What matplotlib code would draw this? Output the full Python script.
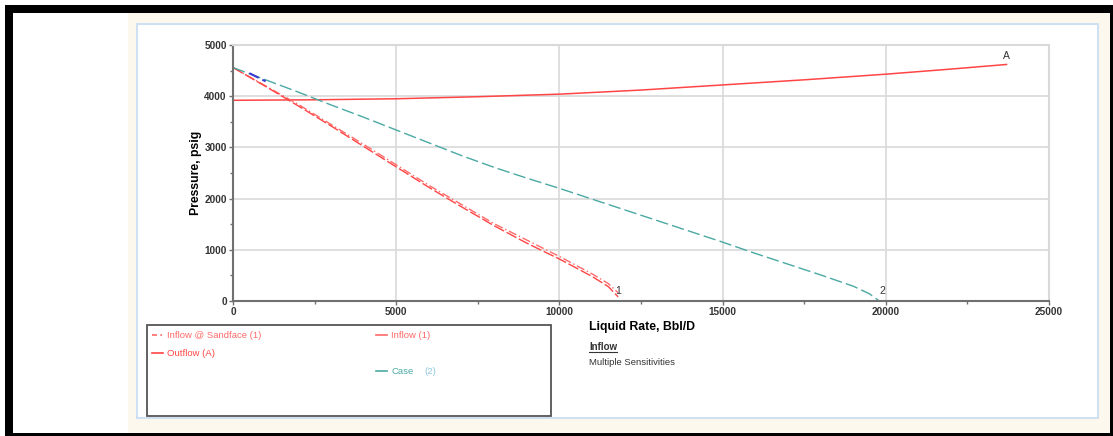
import matplotlib
matplotlib.use("Agg")
import matplotlib.pyplot as plt
from matplotlib.patches import Rectangle
from matplotlib.lines import Line2D
from matplotlib.ticker import MultipleLocator

plt.rcParams['font.family'] = ['Liberation Sans', 'DejaVu Sans']

# Outflow (A)
outflow_rate = [0, 2500, 5000, 7500, 10000, 12500, 15000, 17500, 20000, 22000, 23700]
outflow_p = [3920, 3930, 3950, 3990, 4040, 4120, 4220, 4320, 4430, 4530, 4620]

# Inflow (1)
inflow_rate = [0, 1000, 2000, 3000, 4000, 5000, 6000, 7000, 8000, 9000, 10000, 11000, 11500, 11800]
inflow_p = [4560, 4190, 3810, 3420, 3020, 2620, 2220, 1840, 1470, 1130, 820, 480, 280, 80]

# Inflow @ Sandface (1)
sandface_rate = [0, 2000, 4000, 6000, 8000, 10000, 11000, 11500, 11800]
sandface_p = [4560, 3840, 3060, 2260, 1510, 870, 530, 340, 160]

# Case (2)
case_rate = [0, 1000, 2000, 3000, 4000, 5000, 6000, 7000, 8000, 9000, 10000, 11000,
             12000, 13000, 14000, 15000, 16000, 17000, 18000, 19000, 19500, 19800]
case_p = [4560, 4320, 4080, 3830, 3590, 3340, 3090, 2840, 2610, 2400, 2200, 1990,
          1780, 1570, 1360, 1150, 930, 720, 510, 290, 140, 0]

# short blue segment near start
blue_rate = [500, 1000]
blue_p = [4450, 4290]

W, H = 1113, 436
RED = '#ff4545'
LRED = '#ff6a6a'
TEAL = '#4aa9a3'


def fx(px):
    return px / W


def fy(py):
    return 1 - py / H


def box(x0, y0, x1, y1, **kw):
    return Rectangle((fx(x0), fy(y1)), fx(x1) - fx(x0), fy(y0) - fy(y1),
                     transform=fig.transFigure, figure=fig, **kw)


fig = plt.figure(figsize=(W / 100, H / 100), dpi=100)
fig.patches.append(box(5, 5, 1113, 436, facecolor='black', edgecolor='none', zorder=0))
fig.patches.append(box(13, 13, 1110, 433, facecolor='white', edgecolor='none', zorder=0))
fig.patches.append(box(128, 13, 1110, 433, facecolor='#fdf8ee', edgecolor='none', zorder=0))
fig.patches.append(box(137, 24, 1098, 418, facecolor='white', edgecolor='#cfe0f2', lw=1.5, zorder=0))

ax = fig.add_axes([fx(233), fy(301), fx(1049) - fx(233), fy(45) - fy(301)])
ax.set_zorder(5)
ax.set_xlim(0, 25000)
ax.set_ylim(0, 5000)
ax.xaxis.set_major_locator(MultipleLocator(5000))
ax.xaxis.set_minor_locator(MultipleLocator(2500))
ax.yaxis.set_major_locator(MultipleLocator(1000))
ax.yaxis.set_minor_locator(MultipleLocator(500))
ax.grid(True, which='major', color='#d9d9d9', lw=1.2)
ax.set_axisbelow(True)
for s in ('top', 'right'):
    ax.spines[s].set_color('#d9d9d9')
    ax.spines[s].set_linewidth(1.5)
for s in ('left', 'bottom'):
    ax.spines[s].set_color('#707070')
    ax.spines[s].set_linewidth(1.5)
ax.tick_params(which='major', length=3, width=1, color='#707070', pad=1.5,
               labelsize=7.2, labelcolor='#333333')
ax.tick_params(which='minor', length=2, width=1, color='#707070')
for lab in ax.get_xticklabels() + ax.get_yticklabels():
    lab.set_fontweight('bold')

ax.plot(outflow_rate, outflow_p, color=RED, lw=1.1)
ax.plot(sandface_rate, sandface_p, color=LRED, lw=1, dashes=(6, 2, 1, 2))
ax.plot(inflow_rate, inflow_p, color=RED, lw=1, dashes=(8, 2))
ax.plot(case_rate, case_p, color=TEAL, lw=1, dashes=(9, 3))
ax.plot(blue_rate, blue_p, color='#3a3ad0', lw=1.5, dashes=(5, 2))

ax.text(outflow_rate[-1], outflow_p[-1] + 60, 'A', fontsize=7.5, color='#333333',
        ha='center', va='bottom')
ax.text(inflow_rate[-1], 90, '1', fontsize=7.5, color='#333333', ha='center', va='bottom')
ax.text(case_rate[-1] + 100, 90, '2', fontsize=7.5, color='#333333', ha='center', va='bottom')

ax.set_xlabel('Liquid Rate, Bbl/D', fontsize=8.8, fontweight='bold')
ax.xaxis.set_label_coords((642 - 233) / (1049 - 233), -0.08)
ax.set_ylabel('Pressure, psig', fontsize=8.8, fontweight='bold')
ax.yaxis.set_label_coords(-0.038, 0.5)

# legend box
fig.patches.append(box(147, 325, 551, 416, facecolor='white', edgecolor='#555555', lw=1.3, zorder=1))
entries = [
    (152, 335, 'Inflow @ Sandface (1)', LRED, (3, 2, 1, 2)),
    (376, 335, 'Inflow (1)', LRED, None),
    (152, 353, 'Outflow (A)', RED, None),
    (376, 371, 'Case', TEAL, None),
]
for x0, y0, label, col, dash in entries:
    ln = Line2D([fx(x0), fx(x0 + 11)], [fy(y0), fy(y0)], transform=fig.transFigure,
                color=col, lw=1.2, zorder=3)
    if dash:
        ln.set_dashes(dash)
    fig.add_artist(ln)
    fig.text(fx(x0 + 15), fy(y0), label, fontsize=6.8, color=col, va='center', zorder=3)
fig.text(fx(424), fy(371), '(2)', fontsize=6.8, color='#8ec9e3', va='center', zorder=3)

fig.text(fx(589), fy(347), 'Inflow', fontsize=7, fontweight='bold', color='#333333',
         va='center', zorder=3)
fig.add_artist(Line2D([fx(589), fx(617)], [fy(352), fy(352)], transform=fig.transFigure,
                      color='#333333', lw=0.8, zorder=3))
fig.text(fx(589), fy(362), 'Multiple Sensitivities', fontsize=6.8, color='#333333',
         va='center', zorder=3)

fig.savefig('out.png', dpi=100)
